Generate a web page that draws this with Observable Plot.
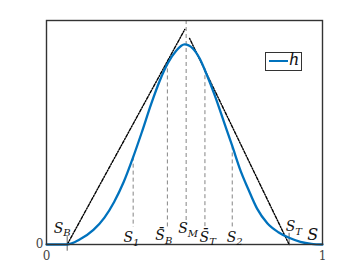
<!DOCTYPE html>
<html><head><meta charset="utf-8">
<script src="https://cdn.jsdelivr.net/npm/d3@7"></script>
<script src="https://cdn.jsdelivr.net/npm/@observablehq/plot@0.6"></script>
<style>
body{margin:0;background:#fff;}
#wrap{position:relative;width:356px;height:275px;}
#legend{position:absolute;left:265px;top:52px;width:37px;height:19px;border:1.3px solid #333;background:#fff;box-sizing:border-box;}
#legend .ln{position:absolute;left:3px;top:7px;width:19px;height:2px;background:#0072BD;}
#legend .tx{position:absolute;left:23px;top:-3px;font-family:"DejaVu Serif",serif;font-style:italic;font-size:16px;color:#111;}
</style></head><body><div id="wrap"></div>
<script>
// curve h(S), values
const S = [0, 0.075, 0.12, 0.17, 0.21, 0.245, 0.28, 0.314, 0.345, 0.38, 0.41, 0.44, 0.47, 0.5, 0.53, 0.555, 0.58, 0.61, 0.645, 0.673, 0.703, 0.73, 0.763, 0.8, 0.84, 0.879, 0.92, 0.96, 1];
const h = [0, 0, 0.022, 0.065, 0.12, 0.19, 0.28, 0.39, 0.5, 0.63, 0.73, 0.81, 0.865, 0.893, 0.875, 0.83, 0.76, 0.665, 0.54, 0.44, 0.33, 0.25, 0.16, 0.095, 0.055, 0.03, 0.012, 0.003, 0];

// tangent (dash-dot) lines
const leftLineS = [0.075, 0.501];
const leftLineH = [0, 0.96];
const rightLineS = [0.879, 0.518];
const rightLineH = [0, 0.921];

// vertical dashed guides
const guideS =   [0.314, 0.438, 0.506, 0.574, 0.673];
const guideTop = [0.39,  0.815, 1.0,   0.785, 0.44];
const guideBot = [0.076, 0.076, 0.085, 0.076, 0.076];

// small ticks at S_B and S_T
const tickS = [0.075, 0.879];
const tickTop = [0.035, 0.05];
const tickBot = [-0.03, 0];

// labels
const labelText = ["S_B", "S_1", "S\u0304_B", "S_M", "S\u0304_T", "S_2", "S_T"];
const labelS =    [0.057, 0.308, 0.425, 0.513, 0.584, 0.682, 0.896];
const labelH =    [0.072, 0.03,  0.038, 0.07,  0.032, 0.032, 0.08];
const axisLabel = ["S"]; const axisLabelS = [0.965]; const axisLabelH = [0.042];

const xTicks = [0, 1];
const yTicks = [0];

const curve = S.map((s, i) => ({s, h: h[i]}));
const leftLine = leftLineS.map((s, i) => ({s, h: leftLineH[i]}));
const rightLine = rightLineS.map((s, i) => ({s, h: rightLineH[i]}));
const guides = guideS.map((s, i) => ({s, y1: guideTop[i], y2: guideBot[i]}));
const ticks = tickS.map((s, i) => ({s, y1: tickTop[i], y2: tickBot[i]}));
const labels = labelText.map((t, i) => ({t, s: labelS[i], h: labelH[i]}));
const axisLab = axisLabel.map((t, i) => ({t, s: axisLabelS[i], h: axisLabelH[i]}));

const serif = "DejaVu Serif";

const chart = Plot.plot({
  width: 356, height: 275,
  marginLeft: 46, marginRight: 34, marginTop: 20, marginBottom: 31,
  style: {fontFamily: serif, fontSize: "12px", background: "white", color: "#444"},
  x: {domain: [0, 1], ticks: xTicks, tickSize: 0, tickPadding: 7, label: null, tickFormat: d => String(d)},
  y: {domain: [0, 1], ticks: yTicks, tickSize: 0, tickPadding: 3, label: null, tickFormat: d => String(d)},
  marks: [
    Plot.ruleX(guides, {x: "s", y1: "y1", y2: "y2", stroke: "#777", strokeWidth: 0.9, strokeDasharray: "4,3"}),
    Plot.ruleX(ticks, {x: "s", y1: "y1", y2: "y2", stroke: "#555", strokeWidth: 0.9}),
    Plot.line(leftLine, {x: "s", y: "h", stroke: "#000", strokeWidth: 1.4, strokeDasharray: "3,1.5,1.2,1.5"}),
    Plot.line(rightLine, {x: "s", y: "h", stroke: "#000", strokeWidth: 1.4, strokeDasharray: "3,1.5,1.2,1.5"}),
    Plot.line(curve, {x: "s", y: "h", stroke: "#0072BD", strokeWidth: 2.3, curve: "monotone-x"}),
    Plot.frame({stroke: "#333", strokeWidth: 1.4}),
    Plot.text(labels, {x: "s", y: "h", text: "t", fontSize: 14, fontFamily: serif, fontStyle: "italic", fill: "#111", textAnchor: "middle", lineAnchor: "middle"}),
    Plot.text(axisLab, {x: "s", y: "h", text: "t", fontSize: 16, fontFamily: serif, fontStyle: "italic", fill: "#111", textAnchor: "middle", lineAnchor: "middle"})
  ]
});

// render subscripts as tspans
d3.select(chart).selectAll("text").each(function() {
  const el = d3.select(this);
  const str = el.text();
  if (str.includes("_")) {
    const [base, sub] = str.split("_");
    el.text(null);
    el.append("tspan").text(base);
    el.append("tspan").attr("font-size", 10).attr("dy", "0.35em").text(sub);
  }
});

const wrap = document.getElementById("wrap");
wrap.appendChild(chart);
const lg = document.createElement("div");
lg.id = "legend";
lg.innerHTML = '<div class="ln"></div><div class="tx">h</div>';
wrap.appendChild(lg);
</script>
</body></html>
